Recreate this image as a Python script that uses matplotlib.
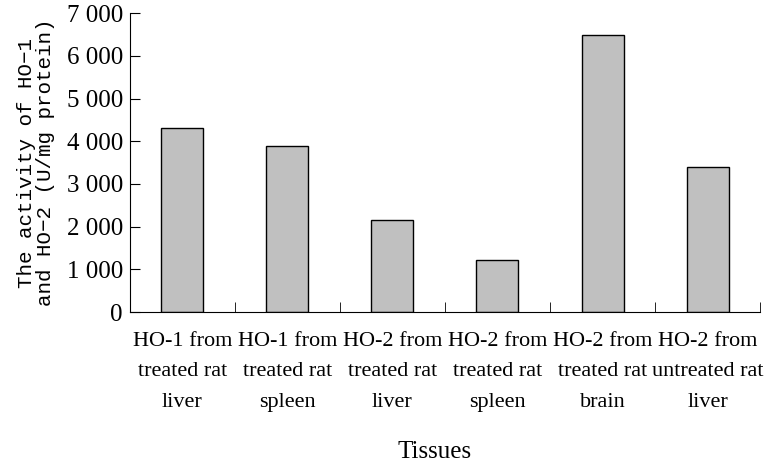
import matplotlib.pyplot as plt
import numpy as np
from matplotlib.ticker import FuncFormatter

# Tissue categories and measured activity (U/mg protein)
tissues = ['HO-1 from\ntreated rat\nliver', 'HO-1 from\ntreated rat\nspleen',
           'HO-2 from\ntreated rat\nliver', 'HO-2 from\ntreated rat\nspleen',
           'HO-2 from\ntreated rat\nbrain', 'HO-2 from\nuntreated rat\nliver']
activity = [4310, 3890, 2150, 1220, 6490, 3400]

serif = 'Liberation Serif'
mono = 'Liberation Mono'

fig = plt.figure(figsize=(7.82, 4.68), dpi=100)
ax = fig.add_axes([0.166, 0.333, 0.806, 0.639])

x = np.arange(len(tissues))
ax.bar(x, activity, width=0.4, color='#c0c0c0', edgecolor='black', linewidth=1)

ax.set_xlim(-0.5, len(tissues) - 0.5)
ax.set_ylim(0, 7000)
ax.spines['top'].set_visible(False)
ax.spines['right'].set_visible(False)

# category labels at bar centres, tick marks at the boundaries
ax.set_xticks(x)
ax.set_xticklabels(tissues, fontfamily=serif, fontsize=16, linespacing=1.83)
ax.tick_params(axis='x', which='major', length=0, pad=14)
ax.set_xticks(np.append(x[1:] - 0.5, len(tissues) - 0.5), minor=True)
ax.tick_params(axis='x', which='minor', direction='in', length=7)

ax.set_yticks(np.arange(0, 7001, 1000))
ax.yaxis.set_major_formatter(FuncFormatter(lambda v, p: f'{int(v):,}'.replace(',', ' ')))
ax.tick_params(axis='y', direction='in', length=7, pad=5, labelsize=18)
for lab in ax.get_yticklabels():
    lab.set_fontfamily(serif)

ax.set_ylabel('The activity of HO\u22121\nand HO\u22122 (U/mg protein)',
              fontfamily=mono, fontsize=15, linespacing=1.0)
ax.yaxis.set_label_coords(-0.118, 0.5)
ax.set_xlabel('Tissues', fontfamily=serif, fontsize=18)
ax.xaxis.set_label_coords(0.484, -0.43)

fig.savefig('out.png', dpi=100)
